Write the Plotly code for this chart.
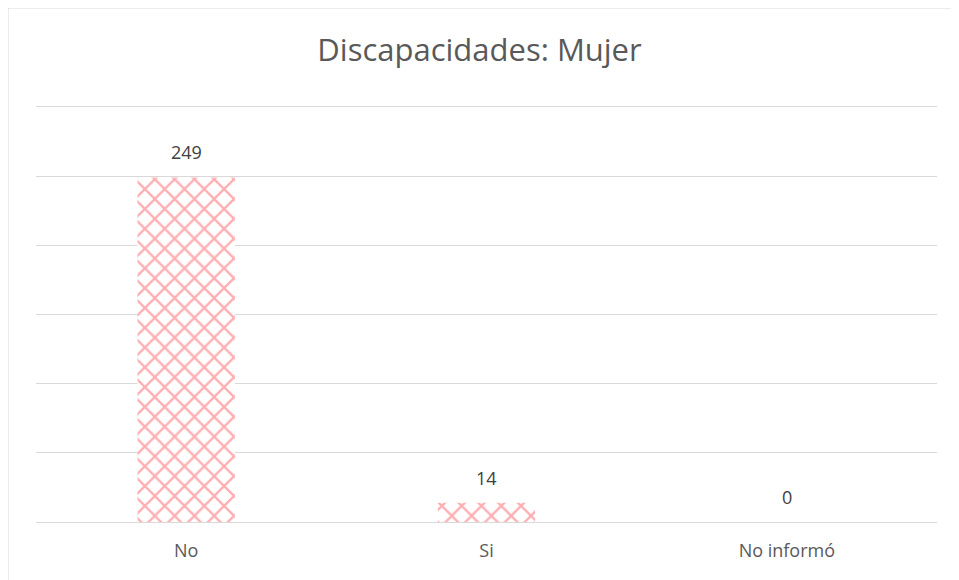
import plotly.graph_objects as go

categories = ["No", "Si", "No informó"]
values = [249, 14, 0]
title_text = "Discapacidades: Mujer"

# page body has an 8px offset; positions below are in figure coordinates
W, H = 959, 580
ml, mr, mt, mb = 28, 30, 92, 66
pw, ph = W - ml - mr, H - mt - mb

fig = go.Figure()
fig.add_trace(go.Bar(
    x=categories, y=values,
    marker=dict(
        color="white",
        line=dict(width=0),
        pattern=dict(shape="x", fgcolor="#FF5E65", bgcolor="white", size=14, solidity=0.3),
    ),
    hoverinfo="skip",
))

for c, v in zip(categories, values):
    fig.add_annotation(x=c, y=v, text=str(v), showarrow=False, yanchor="bottom",
                       yshift=11, font=dict(family="Open Sans, sans-serif", size=18, color="#404040"))

# chart border (left and top visible)
fig.add_shape(type="rect", xref="paper", yref="paper",
              x0=(-0.5 - ml) / pw, x1=(W + 20 - ml) / pw,
              y0=-(mb + 20) / ph, y1=1 + (mt + 0.5) / ph,
              line=dict(color="#d9d9d9", width=2), fillcolor="rgba(0,0,0,0)", layer="below")

fig.update_layout(
    width=W, height=H,
    margin=dict(l=ml, r=mr, t=mt, b=mb),
    paper_bgcolor="white", plot_bgcolor="white",
    bargap=0.676,
    showlegend=False,
    title=dict(text=title_text, x=(479.5 - 8) / W, xanchor="center", y=1 - 42 / H, yanchor="middle",
               font=dict(family="Open Sans, sans-serif", size=31, color="#595959")),
    font=dict(family="Open Sans, sans-serif", color="#595959"),
)
fig.update_yaxes(range=[0, 305], tickvals=[0, 50, 100, 150, 200, 250, 300], showgrid=True,
                 gridcolor="#d9d9d9", gridwidth=1.3,
                 showticklabels=False, zeroline=True, zerolinecolor="#d9d9d9", zerolinewidth=1.3,
                 showline=False, fixedrange=True)
fig.update_xaxes(showline=False, showgrid=False, ticks="", ticklabelstandoff=16,
                 tickfont=dict(family="Open Sans, sans-serif", size=18, color="#595959"), fixedrange=True)

fig.write_html("out.html")
